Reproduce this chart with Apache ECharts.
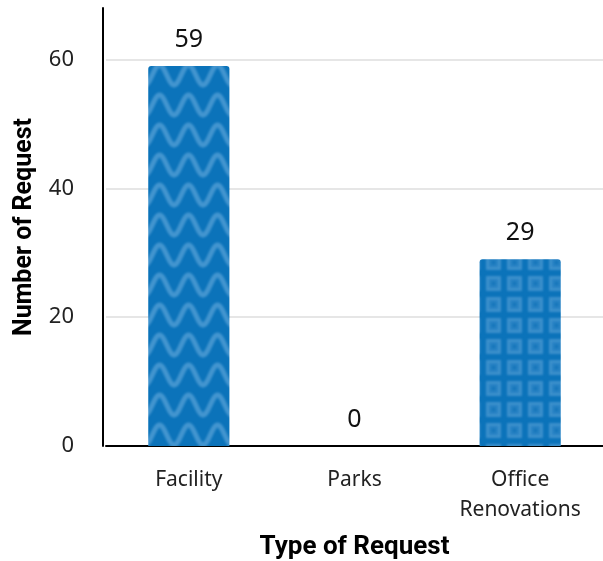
<!DOCTYPE html>
<html>
<head>
<meta charset="utf-8">
<script src="https://cdn.jsdelivr.net/npm/echarts@6/dist/echarts.min.js"></script>
<style>
  html, body { margin: 0; padding: 0; background: #fff; }
  #chart { width: 603px; height: 561px; }
</style>
</head>
<body>
<div id="chart"></div>
<script>
var categories = ['Facility', 'Parks', 'Office\nRenovations'];
var requestCounts = [59, 0, 29];
var yTicks = [0, 20, 40, 60];

var baseBlue = '#0b73ba';

// wavy pattern for first bar
function wavePattern() {
    var c = document.createElement('canvas');
    c.width = 29; c.height = 30;
    var ctx = c.getContext('2d');
    ctx.fillStyle = baseBlue;
    ctx.fillRect(0, 0, c.width, c.height);
    ctx.filter = 'blur(1.2px)';
    ctx.strokeStyle = '#4395cf';
    ctx.lineWidth = 5;
    ctx.lineJoin = 'round';
    ctx.beginPath();
    for (var x = -10; x <= 40; x++) {
        var y = 15 - 10 * Math.cos((x - 14.5) / 29 * 2 * Math.PI);
        if (x === -10) ctx.moveTo(x, y); else ctx.lineTo(x, y);
    }
    ctx.stroke();
    return c;
}

// square grid pattern for third bar
function squarePattern() {
    var c = document.createElement('canvas');
    c.width = 21; c.height = 21;
    var ctx = c.getContext('2d');
    ctx.fillStyle = baseBlue;
    ctx.fillRect(0, 0, c.width, c.height);
    ctx.filter = 'blur(0.8px)';
    ctx.fillStyle = '#3d90cc';
    ctx.fillRect(3, 3, 15, 15);
    ctx.fillStyle = '#2883c4';
    ctx.fillRect(6, 6, 9, 9);
    ctx.fillStyle = '#1676bb';
    ctx.fillRect(8.5, 8.5, 4, 4);
    return c;
}

var patterns = [wavePattern(), null, squarePattern()];

var chart = echarts.init(document.getElementById('chart'));

var option = {
    animation: false,
    grid: {
        left: 106,
        right: 0,
        top: 8,
        bottom: 115,
        outerBoundsMode: 'none'
    },
    xAxis: {
        type: 'category',
        data: categories,
        name: 'Type of Request',
        nameLocation: 'middle',
        nameGap: 88,
        nameTextStyle: {
            fontFamily: 'Roboto',
            fontWeight: 'bold',
            fontSize: 26,
            color: '#000'
        },
        axisLine: { lineStyle: { color: '#000', width: 2 } },
        axisTick: { show: false },
        axisLabel: {
            margin: 19,
            fontFamily: 'Noto Sans',
            fontSize: 21,
            color: '#222',
            lineHeight: 30
        }
    },
    yAxis: {
        type: 'value',
        min: 0,
        max: 68,
        interval: 20,
        offset: 3,
        name: 'Number of Request',
        nameLocation: 'middle',
        nameGap: 66,
        nameTextStyle: {
            fontFamily: 'Roboto',
            fontWeight: 'bold',
            fontSize: 25,
            color: '#000'
        },
        axisLine: { show: true, lineStyle: { color: '#000', width: 2 } },
        axisTick: { show: false },
        axisLabel: {
            margin: 29,
            fontFamily: 'Noto Sans',
            fontSize: 22,
            color: '#222',
            formatter: function (v) {
                return yTicks.indexOf(v) >= 0 ? String(v) : '';
            }
        },
        splitLine: {
            show: true,
            showMaxLine: false,
            lineStyle: { color: '#dedede', width: 1.5 }
        }
    },
    series: [{
        type: 'bar',
        barWidth: '49%',
        data: requestCounts.map(function (v, i) {
            return {
                value: v,
                itemStyle: {
                    color: patterns[i] ? { image: patterns[i], repeat: 'repeat' } : baseBlue
                }
            };
        }),
        itemStyle: { borderRadius: [3, 3, 0, 0] },
        label: {
            show: true,
            position: 'top',
            distance: 14,
            fontFamily: 'Noto Sans',
            fontSize: 25,
            color: '#111'
        }
    }]
};

chart.setOption(option);
</script>
</body>
</html>
